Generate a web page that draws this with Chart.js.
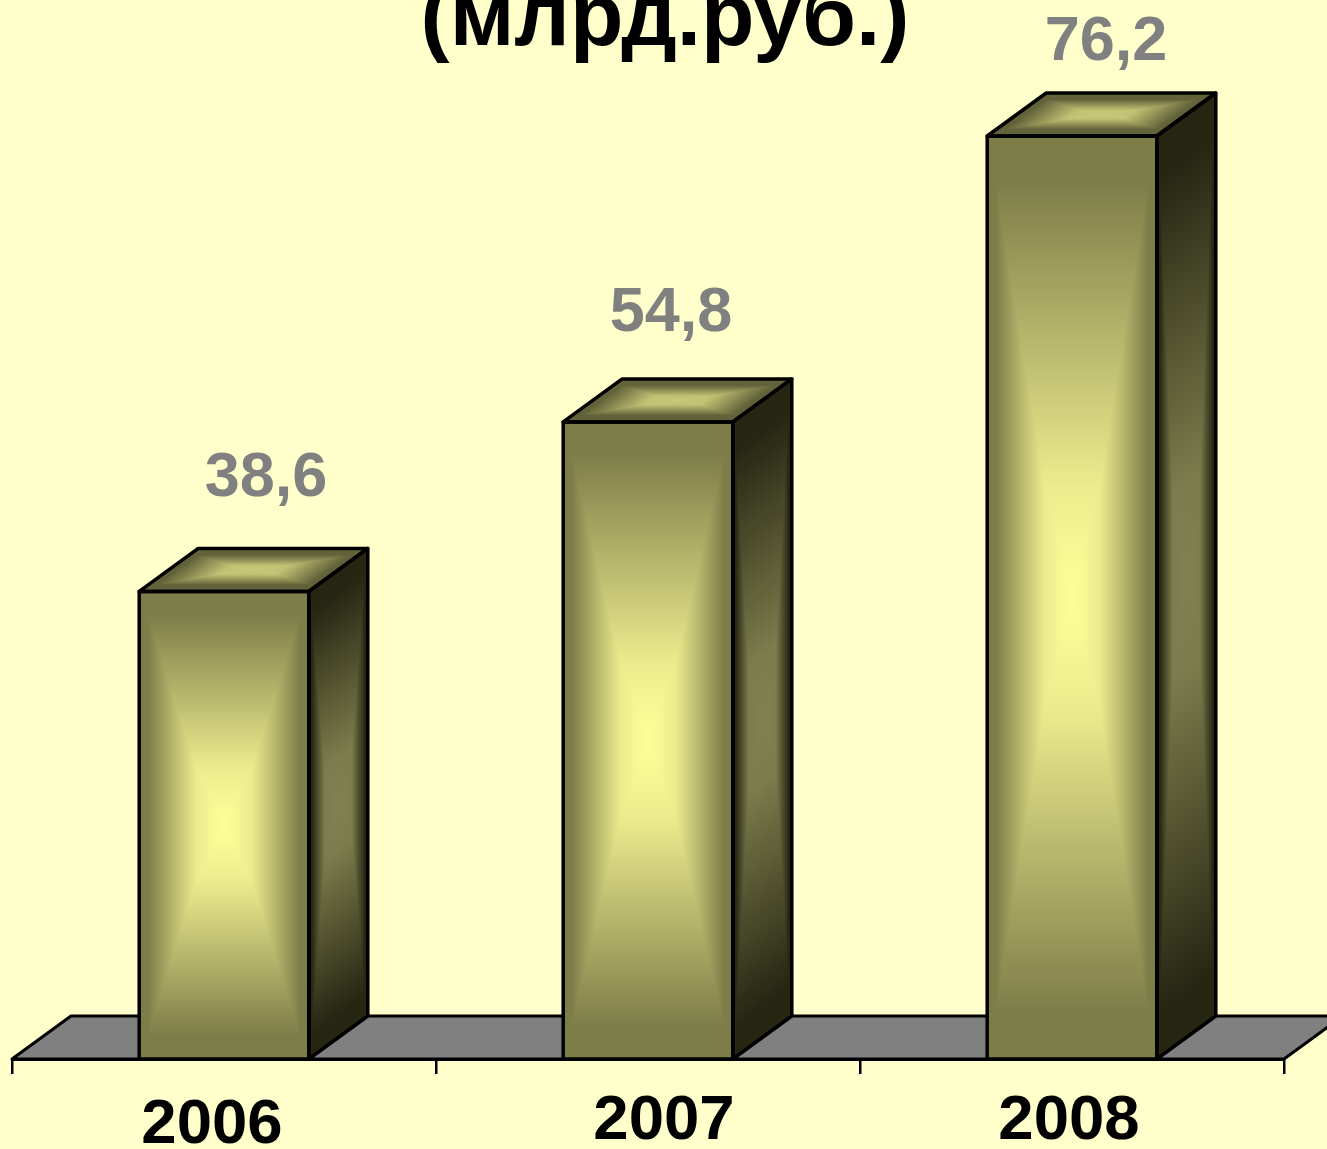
<!DOCTYPE html>
<html>
<head>
<meta charset="utf-8">
<style>
  html, body { margin: 0; padding: 0; background: #ffffcc; overflow: hidden; }
  canvas { display: block; }
</style>
<script src="https://cdn.jsdelivr.net/npm/chart.js@4/dist/chart.umd.min.js"></script>
</head>
<body>
<canvas id="chart" width="1327" height="1149"></canvas>
<script>
var titleText = '(млрд.руб.)';
var years = ['2006', '2007', '2008'];
// heights as drawn; the middle bar stands lower than its printed label says
var barHeights = [38.6, 52.6, 76.2];
var valueLabels = ['38,6', '54,8', '76,2'];

// hand placement of the texts, relative to bar centre / bar top / axis
var valueNudgeX = [42, 23, 34];
var valueNudgeY = [95, 91, 76];
var yearNudgeX = [-12, 16, -3];
var yearNudgeY = [84, 80, 80];

var DEPTH_X = 59, DEPTH_Y = -43;
var FONT = '"Liberation Sans", Arial, sans-serif';

// shades of one face: centre, shoulder (where the ramp flattens), edge
var FRONT = ['#ffff99', '#ecec8e', '#7d7d49'];
var SIDE = ['#808050', '#7c7c4c', '#262613'];
var LID = ['#c8c878', '#c2c274', '#62623a'];

// symmetric ramp: edge colour up to a, shoulder at b, centre at the middle
function ramp(ctx, x1, y1, shades, a, b) {
    var g = ctx.createLinearGradient(0, 0, x1, y1);
    g.addColorStop(0, shades[2]);
    g.addColorStop(a, shades[2]);
    g.addColorStop(b, shades[1]);
    g.addColorStop(0.5, shades[0]);
    g.addColorStop(1 - b, shades[1]);
    g.addColorStop(1 - a, shades[2]);
    g.addColorStop(1, shades[2]);
    return g;
}

// rectangular "from centre" gradient on a face given by a corner and two edge vectors.
// darken keeps the lower of the two ramps, which gives the picture-frame contours
function paintFace(ctx, x, y, ux, uy, vx, vy, shades, across, along) {
    ctx.save();
    ctx.transform(ux, uy, vx, vy, x, y);
    ctx.fillStyle = ramp(ctx, 0, 1, shades, along[0], along[1]);
    ctx.fillRect(0, 0, 1, 1);
    ctx.globalCompositeOperation = 'darken';
    ctx.fillStyle = ramp(ctx, 1, 0, shades, across[0], across[1]);
    ctx.fillRect(0, 0, 1, 1);
    ctx.restore();
}

function outline(ctx, pts, width) {
    ctx.beginPath();
    pts.forEach(function (p, i) {
        if (i === 0) ctx.moveTo(p[0], p[1]); else ctx.lineTo(p[0], p[1]);
    });
    ctx.closePath();
    ctx.lineWidth = width;
    ctx.lineJoin = 'round';
    ctx.strokeStyle = '#000';
    ctx.stroke();
}

var boxesPlugin = {
    id: 'boxes',
    beforeDatasetsDraw: function (chart) {
        var ctx = chart.ctx, area = chart.chartArea;
        var pts = [
            [area.left, area.bottom],
            [area.left + DEPTH_X, area.bottom + DEPTH_Y],
            [area.right + DEPTH_X, area.bottom + DEPTH_Y],
            [area.right, area.bottom]
        ];
        ctx.save();
        ctx.beginPath();
        pts.forEach(function (p) { ctx.lineTo(p[0], p[1]); });
        ctx.closePath();
        ctx.fillStyle = '#808080';
        ctx.fill();
        outline(ctx, pts, 3);
        ctx.restore();
    },
    afterDatasetsDraw: function (chart) {
        var ctx = chart.ctx;
        var xScale = chart.scales.x;
        var bars = chart.getDatasetMeta(0).data;

        bars.forEach(function (bar, i) {
            var left = bar.x - bar.width / 2, right = bar.x + bar.width / 2;
            var top = bar.y, bottom = bar.base;
            var h = bottom - top, w = bar.width;

            paintFace(ctx, left, top, w, 0, 0, h, FRONT, [0.05, 0.34], [0.05, 0.38]);
            paintFace(ctx, right, top, DEPTH_X, DEPTH_Y, 0, h, SIDE, [0.05, 0.27], [0.05, 0.4]);
            paintFace(ctx, left, top, w, 0, DEPTH_X, DEPTH_Y, LID, [0.05, 0.33], [0.15, 0.4]);

            outline(ctx, [[left, top], [right, top], [right, bottom], [left, bottom]], 3.5);
            outline(ctx, [[right, top], [right + DEPTH_X, top + DEPTH_Y], [right + DEPTH_X, bottom + DEPTH_Y], [right, bottom]], 3.5);
            outline(ctx, [[left, top], [left + DEPTH_X, top + DEPTH_Y], [right + DEPTH_X, top + DEPTH_Y], [right, top]], 3.5);

            ctx.save();
            ctx.textAlign = 'center';
            ctx.textBaseline = 'alphabetic';
            ctx.font = 'bold 63px ' + FONT;
            ctx.fillStyle = '#808080';
            ctx.fillText(valueLabels[i], bar.x + valueNudgeX[i], top - valueNudgeY[i]);
            ctx.font = 'bold 63.5px ' + FONT;
            ctx.fillStyle = '#000';
            ctx.fillText(years[i], xScale.getPixelForTick(i) + yearNudgeX[i], xScale.top + yearNudgeY[i]);
            ctx.restore();
        });

        // title runs off the top of the page, as in the original slide
        ctx.save();
        ctx.textAlign = 'center';
        ctx.textBaseline = 'alphabetic';
        ctx.font = 'bold 87.5px ' + FONT;
        ctx.fillStyle = '#000';
        ctx.fillText(titleText, 665, 45);
        ctx.restore();
    }
};

new Chart(document.getElementById('chart'), {
    type: 'bar',
    data: {
        labels: years,
        datasets: [{
            data: barHeights,
            backgroundColor: '#808050',
            borderWidth: 0,
            barPercentage: 0.4,
            categoryPercentage: 1
        }]
    },
    options: {
        responsive: false,
        animation: false,
        layout: { padding: { left: 12, right: 43, top: 90, bottom: 75 } },
        plugins: {
            legend: { display: false },
            tooltip: { enabled: false }
        },
        scales: {
            x: {
                offset: true,
                grid: { offset: true, drawOnChartArea: false, color: '#000', lineWidth: 2.5, tickLength: 15 },
                border: { color: '#000', width: 3 },
                ticks: { display: false }
            },
            y: {
                display: false,
                min: 0,
                max: 80
            }
        }
    },
    plugins: [boxesPlugin]
});
</script>
</body>
</html>
